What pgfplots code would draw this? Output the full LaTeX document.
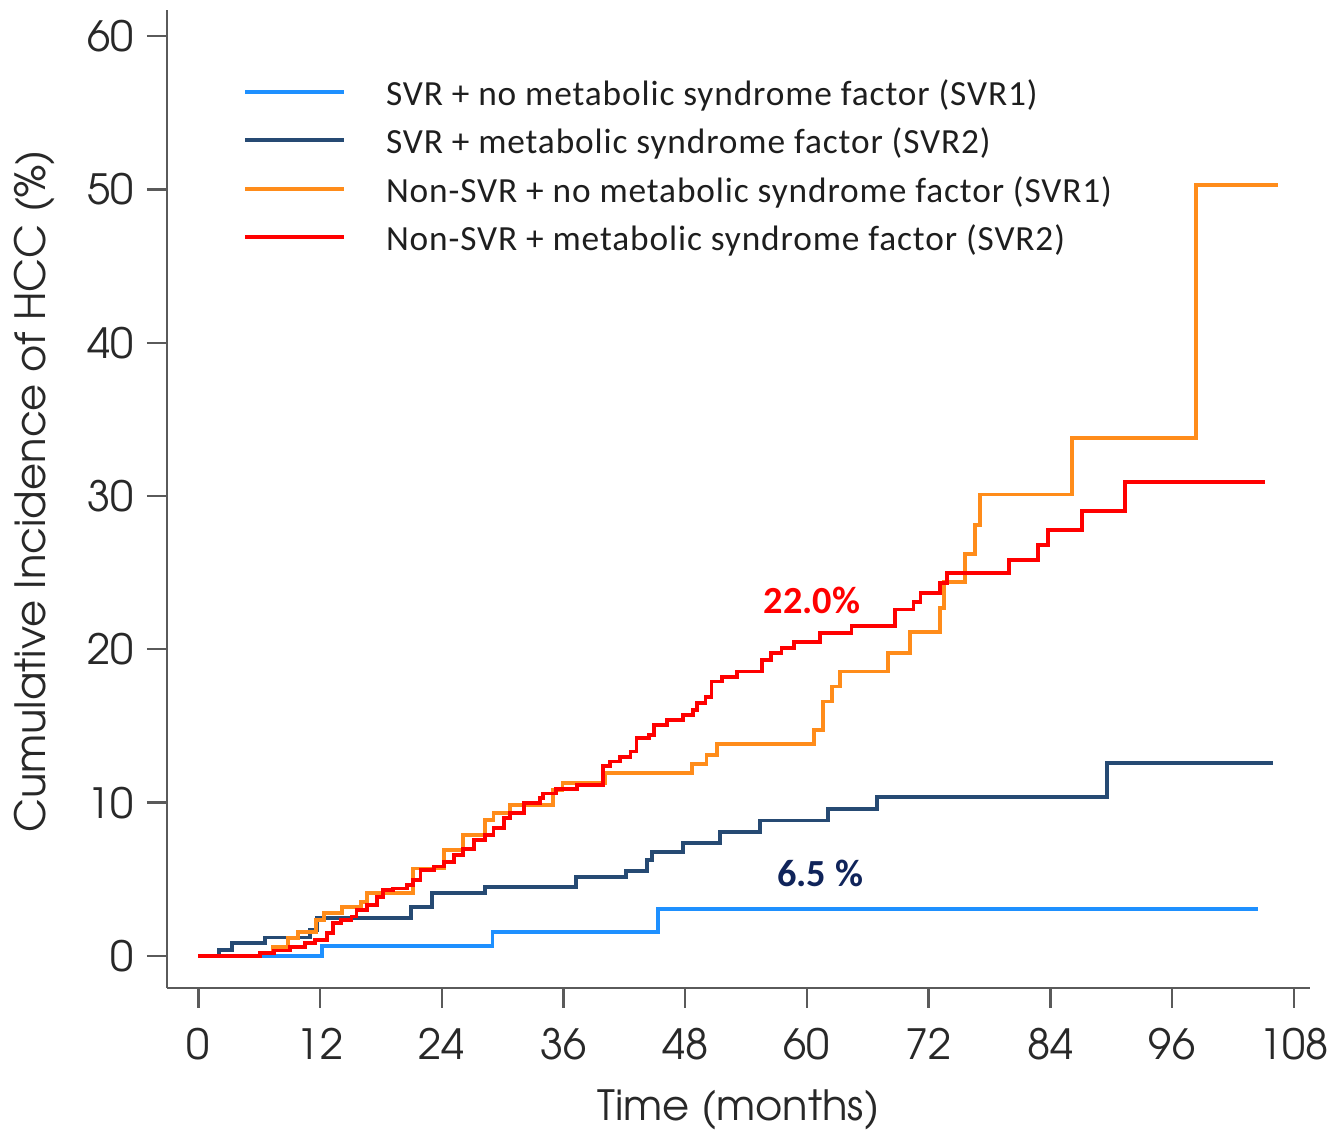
\documentclass[border=0pt]{standalone}
\usepackage{pgfplots}
\pgfplotsset{compat=1.18}
\usepackage{fontspec}
\setmainfont{Carlito}
\newfontfamily\gothic{TeX Gyre Adventor}
\newfontfamily\legfont[LetterSpace=2.5]{Carlito}
\definecolor{svrA}{RGB}{30,144,255}
\definecolor{svrB}{RGB}{38,74,115}
\definecolor{nsA}{RGB}{255,140,26}
\definecolor{nsB}{RGB}{255,0,0}
\definecolor{axgray}{RGB}{90,90,90}
\definecolor{txtgray}{RGB}{40,40,40}
\definecolor{navytxt}{RGB}{16,36,90}
\begin{document}
\begin{tikzpicture}
\begin{axis}[
  scale only axis,
  width=342.9pt, height=293.4pt,
  xmin=-3.09, xmax=109.6,
  ymin=-2.09, ymax=61.7,
  axis x line*=bottom, axis y line*=left,
  axis line style={axgray, line width=0.7pt},
  xtick={0,12,...,108},
  ytick={0,10,...,60},
  tick align=outside,
  major tick length=6pt,
  tick style={axgray, line width=0.7pt},
  /pgf/number format/assume math mode=true,
  tick label style={font=\gothic\fontsize{12.5}{14}\selectfont, text=txtgray},
  xticklabel style={yshift=-2.5pt},
  yticklabel style={xshift=-0.6pt},
  xlabel={Time (months)},
  ylabel={Cumulative Incidence of HCC (\%)},
  label style={font=\gothic\fontsize{12.5}{14}\selectfont, text=txtgray},
  x label style={at={(axis description cs:0.5,-0.135)}, anchor=base},
  y label style={at={(axis description cs:-0.1067,0.508)}, anchor=base},
  legend style={
    at={(axis description cs:0.0665,0.9284)}, anchor=north west,
    draw=none, fill=none, inner sep=0pt, outer sep=0pt,
    row sep=4.45pt, column sep=12.0pt,
    nodes={inner sep=0pt, text height=7.5pt, text depth=2.6pt},
    font=\legfont\fontsize{10.6}{12}\selectfont, text={rgb,255:red,30;green,30;blue,30}
  },
  legend cell align=left,
  legend image code/.code={\draw[#1, line width=1.2pt] (0pt,1.6pt) -- (29.7pt,1.6pt);},
  every axis plot/.append style={line width=1.15pt, const plot},
]
\addplot[svrA] coordinates {(0,0) (12.2,0.67) (29.0,1.57) (45.3,3.08) (104.5,3.08)};
\addlegendentry{SVR + no metabolic syndrome factor (SVR1)}
\addplot[svrB] coordinates {(0,0) (2.0,0.4) (3.3,0.87) (6.6,1.2) (11.0,1.7) (11.7,2.47) (21.0,3.2) (23.0,4.1) (28.3,4.52) (37.2,5.13) (42.2,5.56) (44.2,6.26) (44.7,6.8) (47.8,7.39) (51.4,8.1) (55.4,8.83) (62.1,9.57) (66.9,10.39) (89.6,12.6) (106.0,12.6)};
\addlegendentry{SVR + metabolic syndrome factor (SVR2)}
\addplot[nsA] coordinates {(0,0) (6.1,0.17) (7.4,0.6) (8.8,1.15) (9.8,1.58) (11.6,2.35) (12.4,2.78) (14.2,3.2) (16.0,3.54) (16.6,4.13) (21.2,5.7) (24.2,6.9) (26.1,7.9) (28.3,8.87) (29.1,9.3) (30.7,9.85) (35.0,10.83) (35.9,11.3) (40.1,11.92) (48.7,12.5) (50.1,13.1) (51.1,13.83) (60.7,14.74) (61.6,16.6) (62.5,17.57) (63.3,18.55) (68.0,19.75) (70.2,21.15) (73.1,22.7) (73.5,24.4) (75.6,26.2) (76.6,28.1) (77.1,30.1) (86.1,33.8) (98.4,50.3) (106.4,50.3)};
\addlegendentry{Non-SVR + no metabolic syndrome factor (SVR1)}
\addplot[nsB] coordinates {(0,0) (6.1,0.2) (7.5,0.35) (9.0,0.57) (10.5,0.85) (11.5,1.04) (12.7,1.48) (13.3,2.13) (14.1,2.35) (15.1,2.57) (15.6,3.0) (16.6,3.33) (17.6,3.87) (18.2,4.3) (19.2,4.4) (20.6,4.63) (21.2,4.96) (21.9,5.6) (23.2,5.83) (24.2,6.15) (25.2,6.59) (26.1,7.0) (27.2,7.57) (28.3,7.9) (29.1,8.33) (30.1,8.98) (30.7,9.3) (32.1,9.96) (33.7,10.29) (34.0,10.6) (35.3,10.87) (37.3,11.15) (39.9,12.4) (40.6,12.68) (41.6,13.0) (42.6,13.33) (43.2,14.2) (44.4,14.4) (44.9,15.07) (46.2,15.4) (47.8,15.7) (48.8,16.05) (49.2,16.5) (50.0,16.9) (50.6,17.9) (51.6,18.2) (53.1,18.55) (55.6,19.3) (56.5,19.75) (57.5,20.07) (58.7,20.5) (61.3,21.05) (64.4,21.5) (68.7,22.6) (70.5,23.1) (71.2,23.7) (73.1,24.3) (73.8,24.96) (79.9,25.8) (82.8,26.8) (83.8,27.8) (87.1,29.0) (91.4,30.9) (105.2,30.9)};
\addlegendentry{Non-SVR + metabolic syndrome factor (SVR2)}
\node[font=\bfseries\fontsize{11.5}{12}\selectfont, text=nsB] at (axis cs:60.5,23.2) {22.0\%};
\node[font=\bfseries\fontsize{11.5}{12}\selectfont, text=navytxt] at (axis cs:61.3,5.41) {6.5 \%};
\end{axis}
\pgfresetboundingbox
\useasboundingbox ([shift={(-50.1pt,-42.9pt)}]current axis.south west) rectangle ([shift={(9.3pt,3pt)}]current axis.north east);
\end{tikzpicture}
\end{document}
